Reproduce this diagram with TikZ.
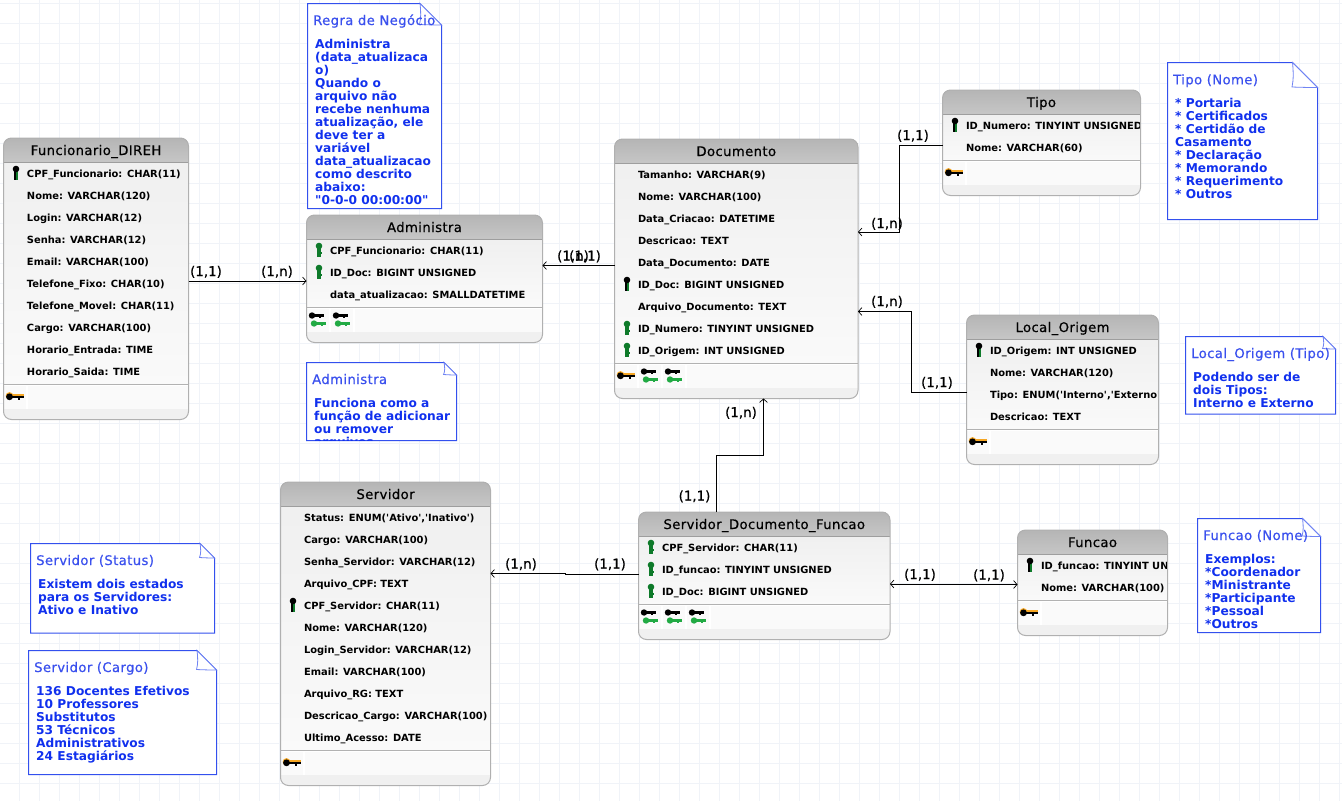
\documentclass[tikz,border=0pt]{standalone}
\usepackage{fontspec}
\usetikzlibrary{arrows.meta}
\newfontfamily\djm{DejaVu Sans}[FakeBold=0.5]
\newfontfamily\djt{DejaVu Sans}[FakeBold=0.5,LetterSpace=3]
\newfontfamily\djb{DejaVu Sans Bold}
\definecolor{gridc}{HTML}{F0F3F8}
\definecolor{hdrtop}{HTML}{B5B5B5}
\definecolor{hdrbot}{HTML}{C6C6C6}
\definecolor{edgec}{HTML}{B0B0B0}
\definecolor{notec}{HTML}{3350EE}
\definecolor{notet}{HTML}{3A50EE}
\definecolor{noteb}{HTML}{1030EE}
\definecolor{keyg}{HTML}{0E7A2A}
\definecolor{keyl}{HTML}{22AA44}
\definecolor{keyo}{HTML}{F5A623}
\tikzset{
  rowtext/.style={anchor=base west,inner sep=0pt,font=\djb\fontsize{9.9}{12}\selectfont,text=black},
  titletext/.style={anchor=base,inner sep=0pt,font=\djt\fontsize{13.2}{15}\selectfont,text=black},
  entitybox/.style={draw=edgec,line width=1pt,rounded corners=8pt,inner sep=0pt,outer sep=0pt},
  conn/.style={draw=black,line width=1pt},
  tipend/.style={-{Straight Barb[length=3.5pt,width=8pt,line width=.7pt]}},
  cardlabel/.style={anchor=base,inner sep=0pt,font=\djm\fontsize{13.4}{15}\selectfont,text=black},
  notetitle/.style={anchor=base west,inner sep=0pt,font=\djt\fontsize{13.2}{15}\selectfont,text=notet},
  notebody/.style={anchor=base west,inner sep=0pt,font=\djb\fontsize{12.2}{15}\selectfont,text=noteb},
  noteline/.style={draw=notec,line width=1pt,fill=white},
  flapline/.style={draw=notec!70,line width=.8pt,fill=white},
}
\newcommand\rowkeyn[2]{}
\newcommand\rowkeyg[2]{%
  \fill[keyg] (#1,#2-4) circle (3.3);
  \fill[keyg] (#1-1.6,#2-4) rectangle (#1+1.6,#2+7);
  \fill[keyg] (#1,#2+2) rectangle (#1+2.6,#2+3.8);}
\newcommand\rowkeyb[2]{%
  \fill[keyg] (#1-1.6,#2-2) rectangle (#1+1.6,#2+7);
  \fill[black] (#1,#2-4) circle (3.3);
  \fill[black] (#1-1.6,#2-2) rectangle (#1,#2+7);}
\newcommand\footkeyo[2]{%
  \fill[keyo] (#1+6,#2-.6) circle (3.8);
  \fill[keyo] (#1+6,#2-2.2) rectangle (#1+20,#2);
  \fill[black] (#1+6,#2+.3) circle (3.4);
  \fill[black] (#1+6,#2-.6) rectangle (#1+20,#2+1.6);
  \fill[black] (#1+14,#2+1) rectangle (#1+16.5,#2+3);}
\newcommand\footkeyf[2]{%
  \fill[black] (#1+5.5,#2-4) circle (3.2);
  \fill[black] (#1+5.5,#2-5.2) rectangle (#1+17,#2-2.8);
  \fill[black] (#1+12,#2-3.5) rectangle (#1+14.5,#2-1.4);
  \fill[keyl] (#1+7.5,#2+4) circle (3.2);
  \fill[keyl] (#1+7.5,#2+2.8) rectangle (#1+19,#2+5.2);
  \fill[keyl] (#1+14,#2+4.5) rectangle (#1+16.5,#2+6.6);}
% id, x, y, w, n, title, footer list, rows
\newcommand\entity[8]{%
  \pgfmathsetmacro\hh{24+22*#5+2.5+35}%
  \pgfmathsetmacro\sepy{#3+24+22*#5+2.5}%
  \begin{scope}
    \clip[rounded corners=8pt] (#2,#3) rectangle ++(#4,\hh);
    \fill[top color=hdrtop,bottom color=hdrbot] (#2,#3) rectangle ++(#4,24);
    \fill[top color=black!6,bottom color=black!2] (#2,#3+24) rectangle (#2+#4,\sepy);
    \fill[black!6] (#2,\sepy) rectangle (#2+#4,#3+\hh);
    \fill[black!2] (#2,\sepy+1.5) rectangle (#2+#4,\sepy+24);
    \draw[black!38,line width=1pt] (#2,#3+24) -- ++(#4,0);
    \draw[black!30,line width=1pt] (#2,\sepy) -- ++(#4,0);
    \draw[white,line width=.8pt] (#2,\sepy+1.2) -- ++(#4,0);
    \foreach \f [count=\j] in {#7} {
      \draw[white,line width=1.6pt] (#2+23.5+24*\j-24,\sepy+1.5) -- ++(0,22.5);
      \csname footkey\f\endcsname{#2+24*\j-24}{\sepy+12}
    }
  \end{scope}
  \node[entitybox,anchor=north west,minimum width=#4 pt,minimum height=\hh pt] (#1) at (#2,#3) {};
  \node[titletext] (#1-title) at (#2+#4/2,#3+17) {#6};
  \begin{scope}
    \clip (#2,#3) rectangle ++(#4-1,\hh);
    \foreach \k/\t [count=\i] in {#8} {
      \csname rowkey\k\endcsname{#2+12.5}{#3+13+22*\i}
      \node[rowtext] (#1-r\i) at (#2+23.3,#3+13+22*\i+4.4) {\t};
    }
  \end{scope}
}
% id, x1, y1, x2, y2, fold, tx, ty, title, bx, by, lines
\newcommand\notebox[9]{%
  \def\nid{#1}\def\nxa{#2}\def\nya{#3}\def\nxb{#4}\def\nyb{#5}\def\nf{#6}\def\ntx{#7}\def\nty{#8}\def\nti{#9}\notecont}
\newcommand\notecont[3]{%
  \draw[noteline] (\nxa,\nya) -- (\nxb-\nf,\nya) -- (\nxb,\nya+\nf) -- (\nxb,\nyb) -- (\nxa,\nyb) -- cycle;
  \draw[flapline] (\nxb-\nf,\nya) .. controls (\nxb-\nf+1,\nya+\nf*.4) and (\nxb-\nf+1,\nya+\nf*.7) .. (\nxb-\nf-.5,\nya+\nf-.5) .. controls (\nxb-\nf*.5,\nya+\nf) and (\nxb-\nf*.2,\nya+\nf) .. (\nxb,\nya+\nf) -- cycle;
  \node[notetitle] (\nid-title) at (\ntx,\nty) {\nti};
  \begin{scope}
    \clip (\nxa,\nya) rectangle (\nxb,\nyb);
    \foreach \t [count=\i] in {#3} {
      \node[notebody] (\nid-b\i) at (#1,#2+13*\i-13) {\t};
    }
  \end{scope}
}
\begin{document}
\begin{tikzpicture}[x=1pt,y=-1pt]
\useasboundingbox (0,0) rectangle (1342,801);
\fill[white] (0,0) rectangle (1342,801);
\foreach \gx in {0,...,66} \draw[gridc,line width=1pt] (19.5+20*\gx,0) -- (19.5+20*\gx,801);
\foreach \gy in {0,...,40} \draw[gridc,line width=1pt] (0,3.5+20*\gy) -- (1342,3.5+20*\gy);

\entity{fun}{3.5}{138}{185}{10}{Funcionario\_DIREH}{o}{b/{CPF\_Funcionario: CHAR(11)},n/{Nome: VARCHAR(120)},n/{Login: VARCHAR(12)},n/{Senha: VARCHAR(12)},n/{Email: VARCHAR(100)},n/{Telefone\_Fixo: CHAR(10)},n/{Telefone\_Movel: CHAR(11)},n/{Cargo: VARCHAR(100)},n/{Horario\_Entrada: TIME},n/{Horario\_Saida: TIME}}
\entity{adm}{306.5}{215}{236}{3}{Administra}{f,f}{g/{CPF\_Funcionario: CHAR(11)},g/{ID\_Doc: BIGINT UNSIGNED},n/{data\_atualizacao: SMALLDATETIME}}
\entity{doc}{614.5}{139}{243.5}{9}{Documento}{o,f,f}{n/{Tamanho: VARCHAR(9)},n/{Nome: VARCHAR(100)},n/{Data\_Criacao: DATETIME},n/{Descricao: TEXT},n/{Data\_Documento: DATE},b/{ID\_Doc: BIGINT UNSIGNED},n/{Arquivo\_Documento: TEXT},g/{ID\_Numero: TINYINT UNSIGNED},g/{ID\_Origem: INT UNSIGNED}}
\entity{tip}{942.5}{90}{198}{2}{Tipo}{o}{b/{ID\_Numero: TINYINT UNSIGNED},n/{Nome: VARCHAR(60)}}
\entity{loc}{966.5}{315}{192}{4}{Local\_Origem}{o}{b/{ID\_Origem: INT UNSIGNED},n/{Nome: VARCHAR(120)},n/{Tipo: ENUM('Interno','Externo')},n/{Descricao: TEXT}}
\entity{fnc}{1017.5}{530}{150}{2}{Funcao}{o}{b/{ID\_funcao: TINYINT UNSIGNED},n/{Nome: VARCHAR(100)}}
\entity{sdf}{638.5}{512}{251.5}{3}{Servidor\_Documento\_Funcao}{f,f,f}{g/{CPF\_Servidor: CHAR(11)},g/{ID\_funcao: TINYINT UNSIGNED},g/{ID\_Doc: BIGINT UNSIGNED}}
\entity{srv}{280.5}{482}{210}{11}{Servidor}{o}{n/{Status: ENUM('Ativo','Inativo')},n/{Cargo: VARCHAR(100)},n/{Senha\_Servidor: VARCHAR(12)},n/{Arquivo\_CPF: TEXT},b/{CPF\_Servidor: CHAR(11)},n/{Nome: VARCHAR(120)},n/{Login\_Servidor: VARCHAR(12)},n/{Email: VARCHAR(100)},n/{Arquivo\_RG: TEXT},n/{Descricao\_Cargo: VARCHAR(100)},n/{Ultimo\_Acesso: DATE}}

\notebox{n1}{307.5}{3.5}{441.5}{208.5}{21.5}{313}{25}{Regra de Negócio}{315}{48}{Administra,{(data\_atualizaca},{o)},Quando o,arquivo não,recebe nenhuma,{atualização, ele},deve ter a,variável,data\_atualizacao,como descrito,abaixo:,{"0-0-0 00:00:00"}}
\notebox{n2}{306.5}{362.5}{456.5}{440.5}{12.5}{312}{384}{Administra}{314}{407}{Funciona como a,função de adicionar,ou remover,arquivos}
\notebox{n3}{1167.5}{62.5}{1317.5}{219.5}{25}{1173}{84.3}{Tipo (Nome)}{1175}{107}{* Portaria,* Certificados,* Certidão de,Casamento,* Declaração,* Memorando,* Requerimento,* Outros}
\notebox{n4}{1185.5}{336.5}{1335.5}{414}{12.5}{1191}{358}{Local\_Origem (Tipo)}{1193}{381}{Podendo ser de,dois Tipos:,Interno e Externo}
\notebox{n5}{1197.5}{518.5}{1320.5}{632.5}{18}{1203}{540}{Funcao (Nome)}{1205}{563}{Exemplos:,*Coordenador,*Ministrante,*Participante,*Pessoal,*Outros}
\notebox{n6}{30.5}{543.5}{214.5}{633}{14.5}{36}{565}{Servidor (Status)}{38}{588}{Existem dois estados,para os Servidores:,Ativo e Inativo}
\notebox{n7}{28.5}{650.5}{216.5}{774.5}{19.5}{34}{672}{Servidor (Cargo)}{36}{695}{136 Docentes Efetivos,10 Professores,Substitutos,53 Técnicos,Administrativos,24 Estagiários}

\draw[conn,tipend] (fun.east |- 0,281) -- (adm.west |- 0,281);
\draw[conn,tipend] (doc.west |- 0,265.5) -- (adm.east |- 0,265.5);
\draw[conn,tipend] (tip.west |- 0,145.5) -- (899.5,145.5) -- (899.5,232) -- (doc.east |- 0,232);
\draw[conn,tipend] (loc.west |- 0,392.5) -- (911.5,392.5) -- (911.5,311.5) -- (doc.east |- 0,311.5);
\draw[conn,tipend] (sdf.north -| 716.5,0) -- (716.5,455.5) -- (763.5,455.5) -- (doc.south -| 763.5,0);
\draw[conn,tipend] (sdf.west |- 0,574.5) -- (565,574.5) -- (565,573.5) -- (srv.east |- 0,573.5);
\draw[conn,{Straight Barb[length=3.5pt,width=8pt,line width=.7pt]}-{Straight Barb[length=3.5pt,width=8pt,line width=.7pt]}] (sdf.east |- 0,584) -- (954,584) -- (954,584.5) -- (fnc.west |- 0,584.5);

\node[cardlabel] (l1) at (206,276) {(1,1)};
\node[cardlabel] (l2) at (277,276) {(1,n)};
\node[cardlabel] (l3) at (573,260.5) {(1,n)};
\node[cardlabel] (l4) at (585,260.5) {(1,1)};
\node[cardlabel] (l5) at (913,140) {(1,1)};
\node[cardlabel] (l6) at (887,228) {(1,n)};
\node[cardlabel] (l7) at (887,306) {(1,n)};
\node[cardlabel] (l8) at (937,387) {(1,1)};
\node[cardlabel] (l9) at (741,417) {(1,n)};
\node[cardlabel] (l10) at (694.5,500.5) {(1,1)};
\node[cardlabel] (l11) at (521,568.5) {(1,n)};
\node[cardlabel] (l12) at (610,568.5) {(1,1)};
\node[cardlabel] (l13) at (920,579) {(1,1)};
\node[cardlabel] (l14) at (989,579.5) {(1,1)};
\end{tikzpicture}
\end{document}
